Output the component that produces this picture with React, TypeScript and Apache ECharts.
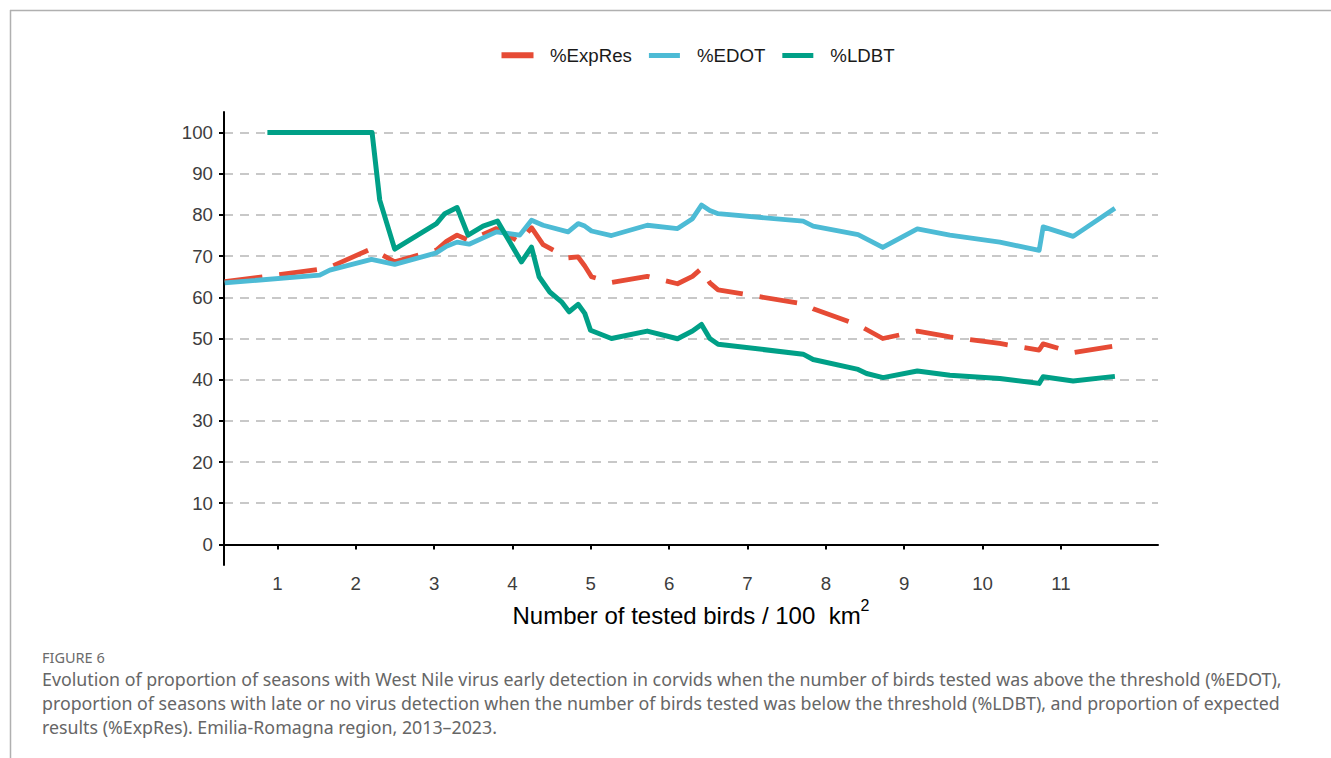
import React, { useEffect, useRef } from "react";
import * as echarts from "echarts";

const xTicks = [1, 2, 3, 4, 5, 6, 7, 8, 9, 10, 11];
const yTicks = [0, 10, 20, 30, 40, 50, 60, 70, 80, 90, 100];

const seriesNames = ["%ExpRes", "%EDOT", "%LDBT"];

const expResX = [0.327, 1.54, 1.668, 2.2, 2.497, 3.03, 3.158, 3.293, 3.446, 3.796, 4.093, 4.243, 4.391, 4.71, 4.838, 4.923, 5.009, 5.264, 5.721, 6.107, 6.298, 6.413, 6.519, 6.625, 7.71, 7.838, 8.412, 8.727, 9.168, 9.583, 10.221, 10.723, 10.774, 11.157, 11.69];
const expResY = [63.8, 66.8, 67.3, 71.8, 68.6, 71.5, 73.6, 75.1, 73.8, 76.7, 73.4, 76.9, 72.8, 69.6, 69.8, 67.6, 65.0, 63.6, 65.1, 63.3, 65.1, 67.0, 63.5, 61.8, 58.4, 57.2, 53.3, 50.0, 51.8, 50.4, 48.8, 47.2, 48.7, 46.6, 48.2];

const edotX = [0.327, 1.54, 1.668, 2.2, 2.497, 3.03, 3.158, 3.293, 3.446, 3.796, 4.093, 4.243, 4.391, 4.71, 4.838, 4.923, 5.009, 5.264, 5.721, 6.107, 6.298, 6.413, 6.519, 6.625, 7.71, 7.838, 8.412, 8.727, 9.168, 9.583, 10.221, 10.723, 10.774, 11.157, 11.69];
const edotY = [63.5, 65.4, 66.6, 69.2, 68.0, 70.8, 72.4, 73.4, 72.9, 75.9, 75.1, 78.7, 77.5, 75.9, 77.9, 77.3, 76.1, 75.0, 77.5, 76.7, 79.1, 82.4, 81.1, 80.3, 78.5, 77.3, 75.2, 72.1, 76.6, 75.1, 73.4, 71.4, 77.1, 74.8, 81.6];

const ldbtX = [0.872, 2.208, 2.306, 2.497, 3.03, 3.136, 3.293, 3.433, 3.625, 3.809, 4.115, 4.243, 4.34, 4.476, 4.626, 4.723, 4.838, 4.923, 4.996, 5.264, 5.721, 6.107, 6.298, 6.413, 6.519, 6.625, 7.71, 7.838, 8.412, 8.52, 8.731, 9.168, 9.583, 10.221, 10.723, 10.774, 11.157, 11.69];
const ldbtY = [100, 100, 83.6, 71.7, 77.9, 80.3, 81.8, 75.1, 77.3, 78.5, 68.6, 72.2, 65.0, 61.3, 58.9, 56.5, 58.3, 56.1, 52.0, 50.0, 51.8, 49.95, 51.8, 53.4, 50.0, 48.6, 46.2, 44.9, 42.5, 41.5, 40.5, 42.1, 41.1, 40.3, 39.1, 40.7, 39.7, 40.8];

const figureLabel = "FIGURE 6";
const captionLines = [
  "Evolution of proportion of seasons with West Nile virus early detection in corvids when the number of birds tested was above the threshold (%EDOT),",
  "proportion of seasons with late or no virus detection when the number of birds tested was below the threshold (%LDBT), and proportion of expected",
  "results (%ExpRes). Emilia-Romagna region, 2013\u20132023.",
];

const RED = "#E64B35";
const BLUE = "#4DBBD5";
const GREEN = "#00A087";
const FONT = "'Liberation Sans', Arial, sans-serif";
const CAP_FONT = "'Noto Sans', 'Open Sans', sans-serif";

const pairs = (xs: number[], ys: number[]) => xs.map((x, i) => [x, ys[i]]);

export default function App() {
  const ref = useRef<HTMLDivElement>(null);

  useEffect(() => {
    if (!ref.current) return;
    const chart = echarts.init(ref.current, undefined, { renderer: "svg" });
    const option: any = {
      animation: false,
      backgroundColor: "#ffffff",
      grid: { left: 224, right: 173, top: 112, bottom: 193, containLabel: false },
      legend: {
        data: seriesNames,
        left: 502,
        top: 46,
        padding: 0,
        icon: "rect",
        itemWidth: 31,
        itemHeight: 5,
        itemGap: 17,
        textStyle: { fontSize: 18.67, color: "#1a1a1a", fontFamily: FONT, padding: [0, 0, 0, 12] },
      },
      xAxis: {
        type: "value",
        min: 0.318,
        max: 12.24,
        name: "{t|Number of tested birds / 100  km}{s|2}",
        nameLocation: "middle",
        nameGap: 32,
        nameTextStyle: {
          color: "#000",
          fontFamily: FONT,
          rich: {
            t: { fontSize: 24, fontFamily: FONT, color: "#000" },
            s: { fontSize: 16, fontFamily: FONT, color: "#000", padding: [0, 0, 20, 0] },
          },
        },
        axisLine: { show: true, lineStyle: { color: "#000", width: 2 } },
        axisTick: { show: true, customValues: xTicks, length: 5, lineStyle: { color: "#000", width: 2 } },
        axisLabel: { customValues: xTicks, fontSize: 18.67, color: "#3d3d3d", margin: 9, fontFamily: FONT },
        splitLine: { show: false },
      },
      yAxis: {
        type: "value",
        min: -5,
        max: 105,
        axisLine: { show: true, lineStyle: { color: "#000", width: 2 } },
        axisTick: { show: true, customValues: yTicks, length: 5, lineStyle: { color: "#000", width: 2 } },
        axisLabel: { customValues: yTicks, fontSize: 18.67, color: "#3d3d3d", margin: 11, fontFamily: FONT },
        splitLine: { show: true, lineStyle: { color: "#c8c8c8", width: 2, type: [9, 7] } },
      },
      series: [
        {
          name: seriesNames[0],
          type: "line",
          data: pairs(expResX, expResY),
          showSymbol: false,
          color: RED,
          lineStyle: { color: RED, width: 4.8, type: [38, 17], join: "round" },
          z: 2,
        },
        {
          name: seriesNames[1],
          type: "line",
          data: pairs(edotX, edotY),
          showSymbol: false,
          color: BLUE,
          lineStyle: { color: BLUE, width: 4.8, join: "round" },
          z: 3,
        },
        {
          name: seriesNames[2],
          type: "line",
          data: pairs(ldbtX, ldbtY),
          showSymbol: false,
          color: GREEN,
          lineStyle: { color: GREEN, width: 5, join: "round" },
          z: 4,
        },
      ],
      graphic: [
        { type: "line", shape: { x1: 10, y1: 10.5, x2: 1331, y2: 10.5 }, style: { stroke: "#b0b0b0", lineWidth: 1.5 } },
        { type: "line", shape: { x1: 10.5, y1: 10, x2: 10.5, y2: 758 }, style: { stroke: "#b0b0b0", lineWidth: 1.5 } },
        // solid key for the dashed series (legend icon inherits the dash)
        { type: "rect", z: 100, shape: { x: 501.5, y: 52.3, width: 32, height: 6 }, style: { fill: RED } },
        {
          type: "text",
          left: 42,
          top: 649,
          style: { text: figureLabel, fill: "#6b6b6b", font: `14.5px ${CAP_FONT}` },
        },
        ...captionLines.map((line, i) => ({
          type: "text",
          left: 42,
          top: 670 + i * 24,
          style: { text: line, fill: "#666666", font: `17.8px ${CAP_FONT}` },
        })),
      ],
    };
    chart.setOption(option);
    return () => chart.dispose();
  }, []);

  return <div ref={ref} style={{ position: "fixed", left: 0, top: 0, width: 1331, height: 758 }} />;
}
